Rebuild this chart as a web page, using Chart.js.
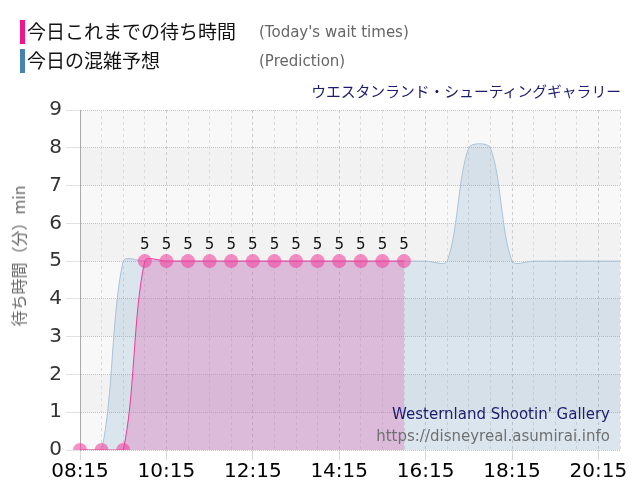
<!DOCTYPE html>
<html>
<head>
<meta charset="utf-8">
<script src="https://cdn.jsdelivr.net/npm/chart.js@4"></script>
<style>
  body { margin: 0; background: #fff; font-family: "DejaVu Sans", Verdana, sans-serif; }
  #wrap { position: relative; width: 640px; height: 500px; }
  canvas { position: absolute; left: 0; top: 0; }
  .lg { position: absolute; left: 20px; height: 24px; line-height: 24px; font-family: "Noto Sans CJK JP", sans-serif; font-size: 19px; color: #111; }
  .lg .bar { position: absolute; left: 0; top: 0; width: 5px; height: 24px; }
  .lg .jp { position: absolute; left: 7px; top: -1px; white-space: nowrap; }
  .lg .en { position: absolute; left: 239px; top: 0; font-size: 15px; color: #666; white-space: nowrap; font-family: "DejaVu Sans", sans-serif; }
  #ttl { position: absolute; right: 19px; top: 80px; font-family: "Noto Sans CJK JP", sans-serif; font-size: 14.8px; color: #1c1c6e; white-space: nowrap; }
  #ylab { position: absolute; left: 18px; top: 256px; transform: translate(-50%, -50%) rotate(-90deg); font-family: "Noto Sans CJK JP", sans-serif; font-size: 16px; color: #666; white-space: nowrap; }
  .wm { position: absolute; right: 30px; font-size: 15px; white-space: nowrap; font-family: "DejaVu Sans", sans-serif; }
</style>
</head>
<body>
<div id="wrap">
  <canvas id="myChart" width="640" height="500"></canvas>
  <div class="lg" style="top:20px"><div class="bar" style="background:#f0158c"></div><span class="jp">今日これまでの待ち時間</span><span class="en">(Today's wait times)</span></div>
  <div class="lg" style="top:49px"><div class="bar" style="background:#4682b4"></div><span class="jp">今日の混雑予想</span><span class="en">(Prediction)</span></div>
  <div id="ttl">ウエスタンランド・シューティングギャラリー</div>
  <div id="ylab">待ち時間（分）min</div>
  <div class="wm" style="top:405px;color:#1c1c6e">Westernland Shootin' Gallery</div>
  <div class="wm" style="top:427px;color:#707070">https://disneyreal.asumirai.info</div>
</div>
<script>
var times = ['08:15','08:45','09:15','09:45','10:15','10:45','11:15','11:45','12:15','12:45',
             '13:15','13:45','14:15','14:45','15:15','15:45','16:15','16:45','17:15','17:45',
             '18:15','18:45','19:15','19:45','20:15','20:45'];
var waitTimes = [0,0,0,5,5,5,5,5,5,5,5,5,5,5,5,5];
var prediction = [0,0,5,5,5,5,5,5,5,5,5,5,5,5,5,5,5,5,8,8,5,5,5,5,5,5];
var yTicks = [0,1,2,3,4,5,6,7,8,9];

// alternating background bands
var bands = {
    id: 'bands',
    beforeDraw: function(chart) {
        var c = chart.ctx, a = chart.chartArea, y = chart.scales.y;
        c.save();
        c.fillStyle = '#f8f8f8';
        c.fillRect(a.left, a.top, a.right - a.left, a.bottom - a.top);
        c.fillStyle = '#f2f2f2';
        for (var i = 1; i < 9; i += 2) {
            var y1 = y.getPixelForValue(i + 1), y0 = y.getPixelForValue(i);
            c.fillRect(a.left, y1, a.right - a.left, y0 - y1);
        }
        c.restore();
    }
};

// value labels above the wait-time points
var valueLabels = {
    id: 'valueLabels',
    afterDatasetsDraw: function(chart) {
        var c = chart.ctx, meta = chart.getDatasetMeta(0);
        c.save();
        c.font = '15px "DejaVu Sans"';
        c.fillStyle = '#111';
        c.textAlign = 'center';
        c.textBaseline = 'bottom';
        meta.data.forEach(function(p, i) {
            if (waitTimes[i] > 0) c.fillText(waitTimes[i], p.x, p.y - 9);
        });
        c.restore();
    }
};

var ctx = document.getElementById('myChart').getContext('2d');
var myChart = new Chart(ctx, {
    type: 'line',
    data: {
        labels: times,
        datasets: [{
            label: '今日これまでの待ち時間',
            data: waitTimes,
            borderColor: '#ea3c98',
            borderWidth: 1,
            backgroundColor: 'rgba(222,110,185,0.36)',
            pointBackgroundColor: 'rgba(240,70,160,0.6)',
            pointBorderWidth: 0,
            pointRadius: 7,
            fill: 'origin',
            tension: 0.3
        }, {
            label: '今日の混雑予想',
            data: prediction,
            borderColor: '#a9c2d8',
            borderWidth: 1,
            backgroundColor: 'rgba(70,130,180,0.16)',
            pointRadius: 0,
            fill: 'origin',
            tension: 0.3
        }]
    },
    options: {
        responsive: false,
        animation: false,
        layout: { padding: { top: 110, right: 20, left: 0, bottom: 0 } },
        plugins: { legend: { display: false }, tooltip: { enabled: false } },
        scales: {
            x: {
                offset: false,
                border: { display: false, dash: [3, 3] },
                grid: {
                    color: function(c) { return c.index % 4 === 0 ? '#cccccc' : '#dddddd'; },
                    tickColor: function(c) { return c.index % 4 === 0 ? '#d8d8d8' : 'rgba(0,0,0,0)'; },
                    tickLength: 10,
                    tickBorderDash: []
                },
                ticks: {
                    autoSkip: false,
                    maxRotation: 0,
                    color: '#000',
                    font: { size: 20, family: 'DejaVu Sans' },
                    padding: 0,
                    callback: function(v, i) { return i % 4 === 0 ? times[i] : ''; }
                },
                afterFit: function(s) { s.height = 50; }
            },
            y: {
                min: 0,
                max: 9,
                border: { display: true, color: '#aaaaaa', dash: [1, 1] },
                grid: { color: '#c4c4c4', tickColor: '#e2e2e2', tickLength: 14, tickBorderDash: [] },
                ticks: {
                    stepSize: 1,
                    color: '#333',
                    font: { size: 20, family: 'DejaVu Sans' },
                    padding: 4,
                    callback: function(v) { return yTicks.indexOf(v) >= 0 ? v : ''; }
                },
                afterFit: function(s) { s.width = 80; }
            }
        }
    },
    plugins: [bands, valueLabels]
});
</script>
</body>
</html>
